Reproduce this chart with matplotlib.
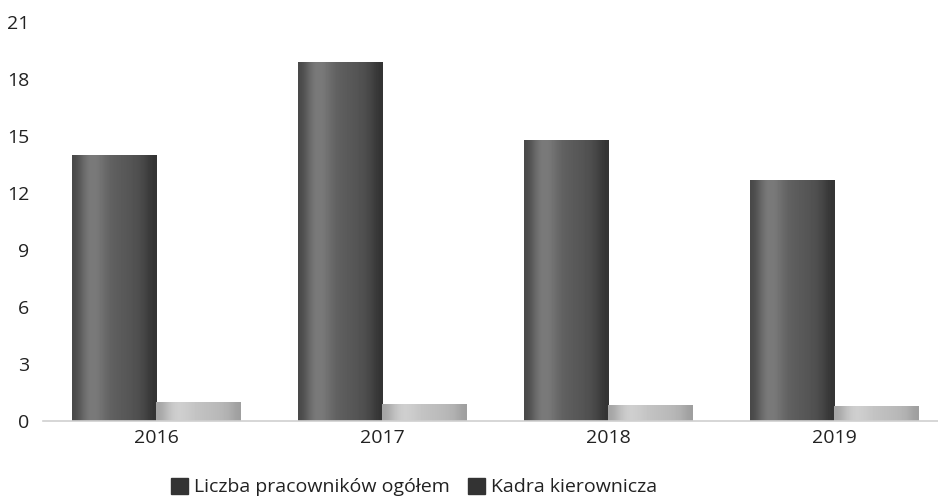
import matplotlib

matplotlib.use("Agg")
import matplotlib.pyplot as plt  # noqa: E402
import numpy as np  # noqa: E402
from matplotlib.patches import Patch  # noqa: E402

plt.rcParams["font.family"] = ["Open Sans", "DejaVu Sans"]

YEARS = ["2016", "2017", "2018", "2019"]
TOTAL_STAFF = [14.0, 18.9, 14.8, 12.7]
MANAGEMENT = [1.0, 0.9, 0.85, 0.8]
SERIES_LABELS = ["Liczba pracowników ogółem", "Kadra kierownicza"]
Y_TICKS = [0, 3, 6, 9, 12, 15, 18, 21]

# horizontal shading profiles for the cylinder-ish scanned bars
DARK_PROFILE = [0.28, 0.44, 0.50, 0.44, 0.38, 0.36, 0.34, 0.32, 0.28, 0.20]
LIGHT_PROFILE = [0.64, 0.76, 0.82, 0.80, 0.77, 0.75, 0.74, 0.72, 0.70, 0.62]


def shade_bars(ax, bars, profile):
    grad = np.array(profile)[None, :]
    for bar in bars:
        x0, y0 = bar.get_x(), bar.get_y()
        w, h = bar.get_width(), bar.get_height()
        img = ax.imshow(grad, cmap="gray", vmin=0, vmax=1, aspect="auto",
                        extent=(x0, x0 + w, y0, y0 + h), interpolation="bicubic",
                        zorder=bar.get_zorder() + 0.1)
        img.set_clip_path(bar)


fig = plt.figure(figsize=(9.38, 4.99), dpi=100)
ax = fig.add_axes([43 / 938, 78 / 499, 895 / 938, 399 / 499])

x = np.arange(len(YEARS))
width = 0.372
dark = ax.bar(x - width / 2, TOTAL_STAFF, width, color="#4a4a4a",
              edgecolor="#3a3a3a", linewidth=0.6, zorder=2)
light = ax.bar(x + width / 2, MANAGEMENT, width, color="#b5b5b5",
               edgecolor="#9a9a9a", linewidth=0.6, zorder=2)
shade_bars(ax, dark, DARK_PROFILE)
shade_bars(ax, light, LIGHT_PROFILE)

ax.set_xlim(-0.5, 3.46)
ax.set_ylim(0, 21)
ax.set_yticks(Y_TICKS)
ax.set_xticks(x)
ax.set_xticklabels(YEARS)
ax.tick_params(axis="both", length=0, labelsize=14, colors="#222222")
ax.tick_params(axis="y", pad=10)
ax.tick_params(axis="x", pad=6)
for side in ("top", "right", "left"):
    ax.spines[side].set_visible(False)
ax.spines["bottom"].set_color("#d0d0d0")
ax.spines["bottom"].set_linewidth(1.2)

handles = [Patch(facecolor="#333333", edgecolor="#333333"),
           Patch(facecolor="#333333", edgecolor="#333333")]
fig.legend(handles, SERIES_LABELS, loc="center", bbox_to_anchor=(414 / 938, 1 - 487 / 499),
           ncol=2, frameon=False, fontsize=14, handlelength=0.9, handleheight=0.9,
           handletextpad=0.3, columnspacing=0.9, labelcolor="#222222")

fig.savefig("out.png", dpi=100)
